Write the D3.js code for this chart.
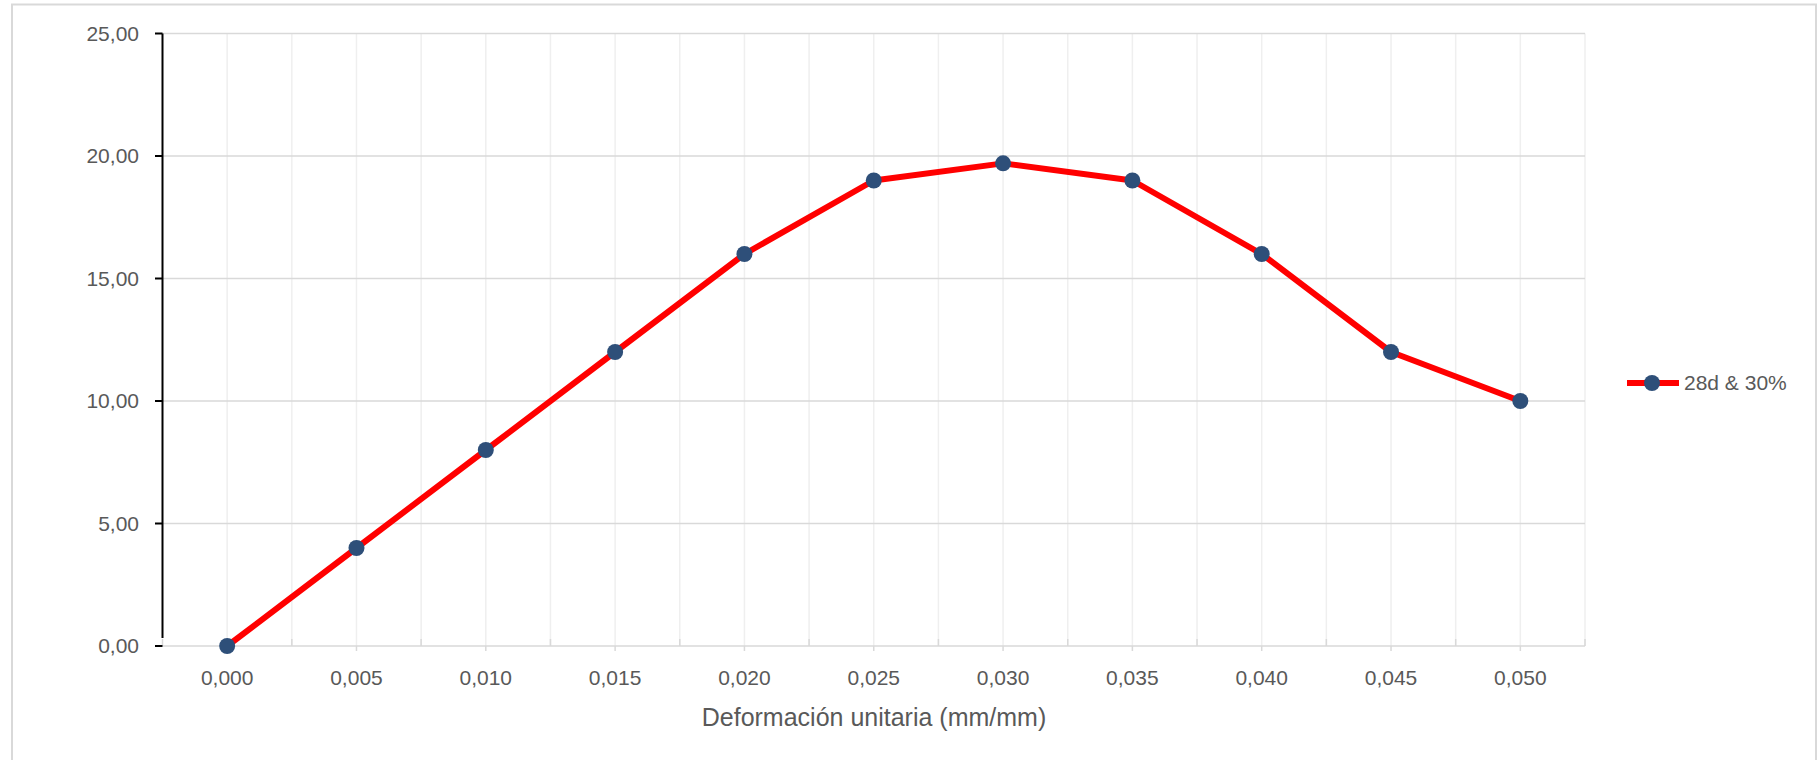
<!DOCTYPE html>
<html><head><meta charset="utf-8">
<script src="https://cdn.jsdelivr.net/npm/d3@7"></script>
<style>body{margin:0;background:#fff;}svg{display:block;font-family:"Liberation Sans",Arial,sans-serif;}</style>
</head><body>
<svg id="chart" width="1820" height="760"></svg>
<script>
const categories = ["0,000","0,005","0,010","0,015","0,020","0,025","0,030","0,035","0,040","0,045","0,050"];
const seriesValues = [0, 4, 8, 12, 16, 19.0, 19.7, 19.0, 16, 12, 10];
const yTicks = [0, 5, 10, 15, 20, 25];
const seriesName = "28d & 30%";
const xTitle = "Deformación unitaria (mm/mm)";

const svg = d3.select("#chart");
const m = {left:162.5, top:33.5, right:1585, bottom:646};

svg.append("rect").attr("x",12).attr("y",4.5).attr("width",1804).attr("height",800)
  .attr("fill","#fff").attr("stroke","#d9d9d9").attr("stroke-width",2);

const x = d3.scaleBand().domain(categories).range([m.left,m.right]).paddingInner(0).paddingOuter(0);
const xc = d => x(d) + x.bandwidth()/2;
const y = d3.scaleLinear().domain([0,25]).range([m.bottom,m.top]);

// vertical gridlines at category centres and boundaries
const vlines = [];
categories.forEach(c => { vlines.push(x(c)); vlines.push(xc(c)); });
vlines.push(m.right);
svg.append("g").selectAll("line").data(vlines.filter(v=>v>m.left+1)).join("line")
  .attr("x1",d=>d).attr("x2",d=>d).attr("y1",m.top).attr("y2",m.bottom)
  .attr("stroke","#efefef").attr("stroke-width",1.5);

// horizontal gridlines
svg.append("g").selectAll("line").data(yTicks).join("line")
  .attr("x1",m.left).attr("x2",m.right).attr("y1",d=>y(d)).attr("y2",d=>y(d))
  .attr("stroke","#d9d9d9").attr("stroke-width",1.5);

// x axis ticks
const gx = svg.append("g");
gx.selectAll("line.b").data(categories.map(c=>x(c)).concat([m.right])).join("line")
  .attr("x1",d=>d).attr("x2",d=>d).attr("y1",m.bottom-7).attr("y2",m.bottom)
  .attr("stroke","#d9d9d9").attr("stroke-width",1.5);
gx.selectAll("line.c").data(categories).join("line")
  .attr("x1",d=>xc(d)).attr("x2",d=>xc(d)).attr("y1",m.bottom).attr("y2",m.bottom+5)
  .attr("stroke","#d9d9d9").attr("stroke-width",1.5);
gx.selectAll("text").data(categories).join("text")
  .attr("x",d=>xc(d)).attr("y",685).attr("text-anchor","middle")
  .attr("font-size",21).attr("fill","#595959").text(d=>d);

// y axis
const gy = svg.append("g");
gy.append("line").attr("x1",m.left).attr("x2",m.left).attr("y1",m.top).attr("y2",m.bottom-8)
  .attr("stroke","#000").attr("stroke-width",2);
gy.selectAll("line.t").data(yTicks).join("line")
  .attr("x1",155).attr("x2",m.left).attr("y1",d=>y(d)).attr("y2",d=>y(d))
  .attr("stroke","#000").attr("stroke-width",2);
gy.selectAll("text").data(yTicks).join("text")
  .attr("x",139).attr("y",d=>y(d)).attr("dy","0.35em").attr("text-anchor","end")
  .attr("font-size",21).attr("fill","#595959").text(d=>d3.format(".2f")(d).replace(".",","));

// axis title
svg.append("text").attr("x",874).attr("y",726).attr("text-anchor","middle")
  .attr("font-size",25).attr("fill","#595959").text(xTitle);

// series
const line = d3.line().x((d,i)=>xc(categories[i])).y(d=>y(d));
svg.append("path").datum(seriesValues).attr("d",line).attr("fill","none")
  .attr("stroke","#ff0000").attr("stroke-width",6).attr("stroke-linejoin","round");
svg.append("g").selectAll("circle").data(seriesValues).join("circle")
  .attr("cx",(d,i)=>xc(categories[i])).attr("cy",d=>y(d)).attr("r",8).attr("fill","#2e4f79");

// legend
const lg = svg.append("g");
lg.append("line").attr("x1",1627).attr("x2",1679).attr("y1",383).attr("y2",383)
  .attr("stroke","#ff0000").attr("stroke-width",6);
lg.append("circle").attr("cx",1652).attr("cy",383).attr("r",8).attr("fill","#2e4f79");
lg.append("text").attr("x",1684).attr("y",383).attr("dy","0.35em")
  .attr("font-size",21).attr("fill","#595959").text(seriesName);
</script>
</body></html>
